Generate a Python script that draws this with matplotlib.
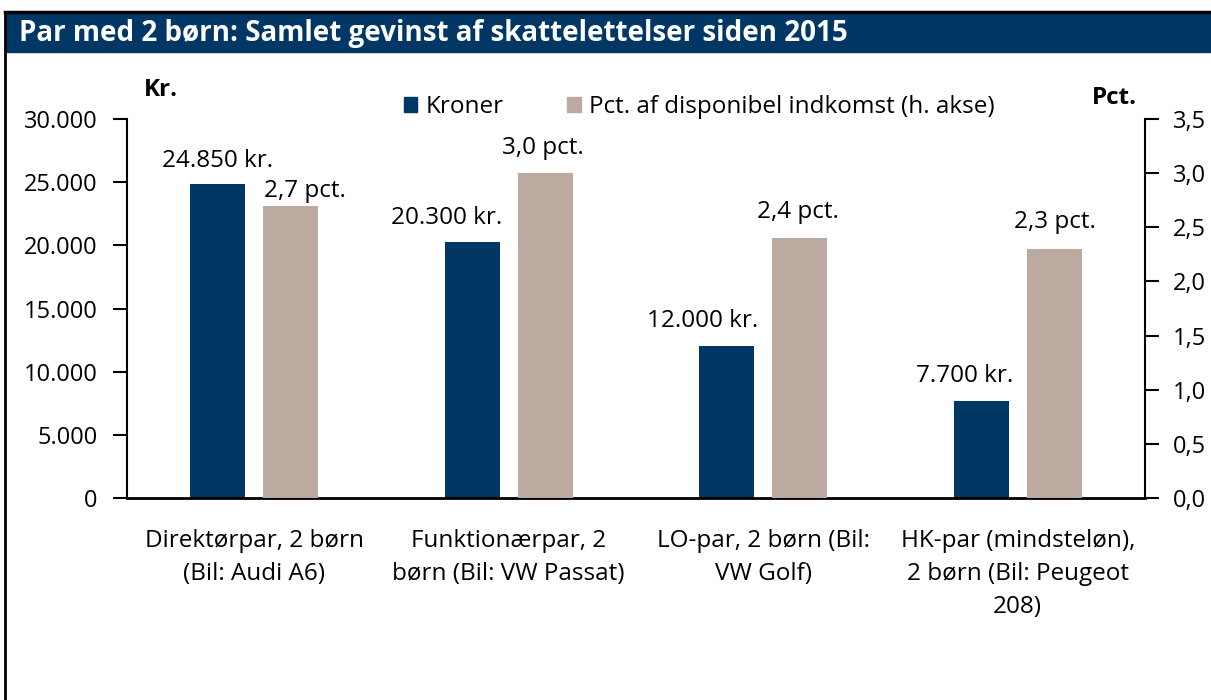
import matplotlib

matplotlib.use("Agg")

import matplotlib.pyplot as plt
import numpy as np
from matplotlib.patches import Rectangle
from matplotlib.lines import Line2D

plt.rcParams["font.family"] = ["Open Sans", "DejaVu Sans"]

NAVY = "#003764"
BEIGE = "#bcaaa0"

categories = [
    "Direktørpar, 2 børn\n(Bil: Audi A6)",
    "Funktionærpar, 2\nbørn (Bil: VW Passat)",
    "LO-par, 2 børn (Bil:\nVW Golf)",
    "HK-par (mindsteløn),\n2 børn (Bil: Peugeot\n208)",
]
kroner = [24850, 20300, 12000, 7700]
pct = [2.7, 3.0, 2.4, 2.3]
kroner_labels = ["24.850 kr.", "20.300 kr.", "12.000 kr.", "7.700 kr."]
pct_labels = ["2,7 pct.", "3,0 pct.", "2,4 pct.", "2,3 pct."]
left_ticks = [0, 5000, 10000, 15000, 20000, 25000, 30000]
left_ticklabels = ["0", "5.000", "10.000", "15.000", "20.000", "25.000", "30.000"]
right_ticks = [0, 0.5, 1.0, 1.5, 2.0, 2.5, 3.0, 3.5]
right_ticklabels = ["0,0", "0,5", "1,0", "1,5", "2,0", "2,5", "3,0", "3,5"]

# hand-placed label nudges (pixels), as in the original
kr_nudge = [(0, 23), (-26, 24), (-24, 25), (-17, 25)]
pct_nudge = [(14, 15), (-2, 25), (-2, 26), (1, 27)]

TXT = 17.5
TICK = 17

W, H = 1211, 700
fig = plt.figure(figsize=(W / 100, H / 100), dpi=100)

# title banner and frame
fig.patches.append(Rectangle((5 / W, 1 - 52 / H), 1 - 5 / W, 40 / H,
                             transform=fig.transFigure, color=NAVY, zorder=0))
fig.lines.append(Line2D([5 / W, 5 / W], [0, 1 - 12 / H], transform=fig.transFigure,
                        color="black", lw=2))
fig.lines.append(Line2D([5 / W, 1], [1 - 12 / H, 1 - 12 / H], transform=fig.transFigure,
                        color="black", lw=2.5))
fig.text(19 / W, 1 - 33 / H, "Par med 2 børn: Samlet gevinst af skattelettelser siden 2015",
         color="white", fontsize=20, fontweight="bold", va="center", ha="left")

ax = fig.add_axes([127 / W, 1 - 498 / H, (1145 - 127) / W, (498 - 119) / H])
ax2 = ax.twinx()

x = np.arange(len(categories))
bw = 0.216
off = 0.143
ax.bar(x - off, kroner, bw, color=NAVY, zorder=2)
ax2.bar(x + off, pct, bw, color=BEIGE, zorder=2)

ax.set_xlim(-0.5, 3.5)
ax.set_ylim(0, 30000)
ax2.set_ylim(0, 3.5)

# all value labels go on ax2 so nothing is hidden behind the right-axis bars
for xi, v, lab, (dx, dy) in zip(x, kroner, kroner_labels, kr_nudge):
    ax2.annotate(lab, (xi - off, v), xycoords=ax.transData, xytext=(dx, dy),
                 textcoords="offset pixels", ha="center", va="center", fontsize=TXT)
for xi, v, lab, (dx, dy) in zip(x, pct, pct_labels, pct_nudge):
    ax2.annotate(lab, (xi + off, v), xytext=(dx, dy), textcoords="offset pixels",
                 ha="center", va="center", fontsize=TXT)

ax.set_yticks(left_ticks)
ax.set_yticklabels(left_ticklabels, fontsize=TICK)
ax2.set_yticks(right_ticks)
ax2.set_yticklabels(right_ticklabels, fontsize=TICK)
ax.set_xticks(x)
ax.set_xticklabels(categories, fontsize=TXT, linespacing=1.5)
ax.tick_params(axis="x", length=0, pad=22)
ax.tick_params(axis="y", length=10, width=1.5, pad=11, direction="out")
ax2.tick_params(axis="y", length=10, width=1.5, pad=10, direction="out")

for a in (ax, ax2):
    a.spines["top"].set_visible(False)
    a.spines["left"].set_linewidth(1.5)
    a.spines["right"].set_linewidth(1.5)
    a.spines["bottom"].set_linewidth(2)
ax2.spines["bottom"].set_visible(False)
ax.spines["right"].set_visible(False)
ax2.spines["left"].set_visible(False)

fig.text(144 / W, 1 - 90 / H, "Kr.", fontsize=TXT, fontweight="bold", va="center")
fig.text(1137 / W, 1 - 98 / H, "Pct.", fontsize=TXT, fontweight="bold", va="center", ha="right")

handles = [Rectangle((0, 0), 1, 1, color=NAVY), Rectangle((0, 0), 1, 1, color=BEIGE)]
fig.legend(handles, ["Kroner", "Pct. af disponibel indkomst (h. akse)"],
           loc="center left", bbox_to_anchor=(404 / W, 1 - 107 / H), ncol=2,
           frameon=False, fontsize=TXT, handlelength=0.55, handleheight=0.55,
           handletextpad=0.35, columnspacing=2.6, borderaxespad=0, borderpad=0)

fig.savefig("out.png", dpi=100)
